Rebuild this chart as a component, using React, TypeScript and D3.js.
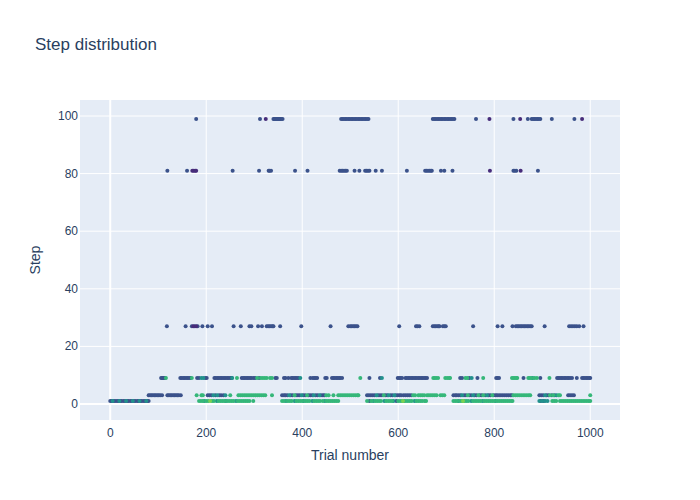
import React from "react";
import * as d3 from "d3";

const TITLE = "Step distribution";
const X_TITLE = "Trial number";
const Y_TITLE = "Step";
const xTicks = [0, 200, 400, 600, 800, 1000];
const yTicks = [0, 20, 40, 60, 80, 100];

// step levels
const steps = [1, 3, 9, 27, 81, 99];

// ---- step 1 ----
const step1Navy = [0,3,7,10,14,17,21,24,28,31,35,38,42,45,49,52,56,59,63,66,70,73,77,80,540,596,897,903];
const step1Teal = [5,19,33,47,61,75,196,222,241,262,366,384,403,421,447,548,571,590,612,634,726,752,776,803,894,900,906,911];
const step1Green = [185,189,193,200,204,212,216,226,230,234,238,245,249,253,257,266,270,274,278,282,286,290,298,358,362,370,374,378,388,392,396,400,407,411,415,425,429,433,437,443,451,455,459,463,467,471,475,535,544,552,556,560,564,575,579,583,587,600,604,608,616,620,624,628,638,642,646,650,655,658,715,719,723,730,734,738,742,746,756,760,764,768,772,780,784,788,792,796,800,807,811,815,819,823,827,831,835,838,921,925,929,937,941,945,949,953,957,961,965,969,973,977,981,985,989,993,997,1000];
const step1Lime = [208, 610, 735];

// ---- step 3 ----
const step3Navy = [80,83,86,89,92,95,98,101,104,108,119,122,125,128,131,134,137,140,143,147,203,207,211,219,227,231,236,358,362,365,369,376,380,387,391,395,402,406,413,417,421,428,432,439,443,446,535,539,543,547,551,558,562,566,573,577,584,588,595,599,603,606,611,615,619,623,627,715,719,722,726,730,737,741,748,752,759,763,770,774,781,788,792,799,803,806,810,814,818,822,826,830,834,837,894,898,902,909,913,920,926,954,958,962,966];
const step3Teal = [215,223,240,373,399,424,436,555,580,592,733,756,785,906,930];
const step3Green = [180,190,193,250,267,271,275,279,283,287,291,295,299,303,307,311,315,319,323,337,384,410,450,455,465,475,479,483,487,491,495,499,503,507,511,515,517,570,631,635,642,646,650,654,660,664,668,672,676,680,688,692,696,745,767,777,796,840,844,848,852,856,860,864,868,872,875,916,923,934,937,1000];

// ---- step 9 ----
const step9Navy = [106,108,110,112,114,146,149,152,155,158,161,164,167,181,185,198,201,217,220,223,226,229,232,235,238,241,244,247,250,253,274,277,280,283,286,289,292,295,299,302,310,344,347,362,365,371,377,380,383,386,389,392,417,422,425,428,431,448,451,462,465,468,471,474,477,479,483,540,562,599,602,605,608,615,618,621,624,627,630,633,636,639,642,645,648,651,654,657,660,729,733,748,765,804,807,810,861,896,931,934,937,940,943,946,949,952,955,958,962,972,983,986,989,992,995,998,1000];
const step9Teal = [190,194,254,396,566,753,880];
const step9Green = [116,170,264,306,314,318,322,326,333,337,521,673,676,679,683,698,702,706,708,740,744,777,837,840,843,846,848,871,874,877,884,889,915];

// ---- step 27 ----
const step27Navy = [118,157,170,176,182,192,203,212,257,272,290,294,308,316,326,329,332,335,338,340,354,398,459,496,500,503,506,509,512,515,602,637,640,644,672,675,678,681,684,686,693,696,699,756,807,817,838,845,848,851,854,857,860,863,866,869,872,875,878,905,956,960,964,968,972,977,986];
const step27Purple = [173,179];

// ---- step 81 ----
const step81Navy = [119,160,255,310,330,332,335,385,411,478,481,484,487,490,493,509,519,531,534,537,540,553,566,618,656,659,662,665,668,670,689,696,713,840,843,846,891];
const step81Purple = [171,174,177,179,791,855];

// ---- step 99 ----
const step99Navy = [179,312,340,342,344,346,348,350,352,354,356,359,481,484,487,490,493,496,499,502,505,508,511,514,517,520,523,526,529,532,535,538,672,675,678,681,684,687,690,693,696,699,702,705,708,711,714,717,762,840,870,878,881,884,887,890,893,896,920,967];
const step99Purple = [324,790,854,983];

const NAVY = "#3b528b";
const TEAL = "#21918c";
const GREEN = "#35b779";
const LIME = "#7ad151";
const PURPLE = "#472c7a";

const series = [
  { step: steps[0], color: NAVY, trials: step1Navy },
  { step: steps[0], color: TEAL, trials: step1Teal },
  { step: steps[0], color: GREEN, trials: step1Green },
  { step: steps[0], color: LIME, trials: step1Lime },
  { step: steps[1], color: NAVY, trials: step3Navy },
  { step: steps[1], color: TEAL, trials: step3Teal },
  { step: steps[1], color: GREEN, trials: step3Green },
  { step: steps[2], color: NAVY, trials: step9Navy },
  { step: steps[2], color: TEAL, trials: step9Teal },
  { step: steps[2], color: GREEN, trials: step9Green },
  { step: steps[3], color: NAVY, trials: step27Navy },
  { step: steps[3], color: PURPLE, trials: step27Purple },
  { step: steps[4], color: NAVY, trials: step81Navy },
  { step: steps[4], color: PURPLE, trials: step81Purple },
  { step: steps[5], color: NAVY, trials: step99Navy },
  { step: steps[5], color: PURPLE, trials: step99Purple },
];

const W = 700;
const H = 500;
const M = { l: 80, r: 80, t: 100, b: 80 };
const FONT = "'Liberation Sans', Arial, sans-serif";
const TXT = "#2a3f5f";

export default function App() {
  const x = d3.scaleLinear().domain([-63, 1062]).range([M.l, W - M.r]);
  const y = d3.scaleLinear().domain([-5.56, 105.56]).range([H - M.b, M.t]);
  return (
    <svg width={W} height={H} style={{ position: "absolute", left: 0, top: 0, background: "#fff" }} fontFamily={FONT}>
      <rect x={M.l} y={M.t} width={W - M.l - M.r} height={H - M.t - M.b} fill="#E5ECF6" />
      {xTicks.map((t) => (
        <line key={"xg" + t} x1={x(t)} x2={x(t)} y1={M.t} y2={H - M.b} stroke="#fff" strokeWidth={t === 0 ? 2 : 1} />
      ))}
      {yTicks.map((t) => (
        <line key={"yg" + t} x1={M.l} x2={W - M.r} y1={y(t)} y2={y(t)} stroke="#fff" strokeWidth={t === 0 ? 2 : 1} />
      ))}
      <g>
        {series.map((s, i) =>
          s.trials.map((t, j) => (
            <circle key={i + "-" + j} cx={x(t)} cy={y(s.step)} r={2} fill={s.color} />
          ))
        )}
      </g>
      {xTicks.map((t) => (
        <text key={"xt" + t} x={x(t)} y={H - M.b + 17} textAnchor="middle" fontSize={12} fill={TXT}>
          {t}
        </text>
      ))}
      {yTicks.map((t) => (
        <text key={"yt" + t} x={M.l - 2} y={y(t) + 4} textAnchor="end" fontSize={12} fill={TXT}>
          {t}
        </text>
      ))}
      <text x={(M.l + W - M.r) / 2} y={460} textAnchor="middle" fontSize={14} fill={TXT}>
        {X_TITLE}
      </text>
      <text transform={`translate(40,${(M.t + H - M.b) / 2}) rotate(-90)`} textAnchor="middle" fontSize={14} fill={TXT}>
        {Y_TITLE}
      </text>
      <text x={35} y={50} fontSize={17} fill={TXT}>
        {TITLE}
      </text>
    </svg>
  );
}
